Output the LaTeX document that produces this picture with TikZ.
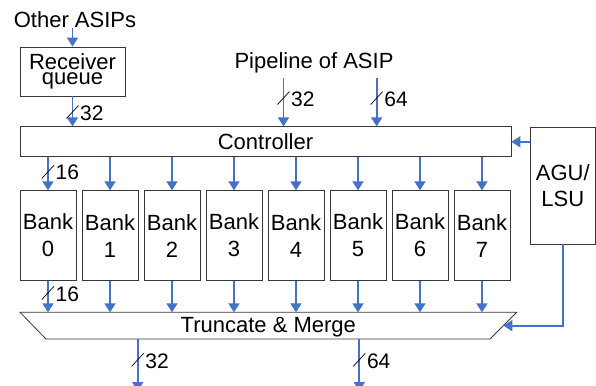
\documentclass[tikz,border=0pt]{standalone}
\usepackage{fontspec}
\setmainfont{Liberation Sans}
\usepackage{tikz}
\usetikzlibrary{arrows.meta,%
                calc,%
                positioning}
\definecolor{busblue}{RGB}{68,114,196}
\newcommand{\BusWidth}[2]{%
  \draw[TickStyle] ($(#1)+(-6,6.5)$) -- ($(#1)+(6,-6.5)$);
  \node[WidthStyle] at ($(#1)+(7.5,1)$) {#2};}

\begin{document}
\begin{tikzpicture}[x=1pt,y=-1pt]
		\tikzstyle{every node}=[font=\fontsize{22}{26}\selectfont]
		\tikzset{BoxStyle/.style = {draw=black!78,line width=0.8pt,align=center,inner sep=0pt}}
		\tikzset{BankStyle/.style = {BoxStyle,minimum width=56pt,minimum height=89.8pt,font=\fontsize{22}{27}\selectfont}}
		\tikzset{TickStyle/.style = {draw=black,line width=0.7pt}}
		\tikzset{WidthStyle/.style = {anchor=west,inner sep=0pt,font=\fontsize{21}{21}\selectfont}}
		\tikzstyle{EdgeStyle}=[draw=busblue,line width=1.7pt,-{Triangle[length=9pt,width=11pt]}]
		\useasboundingbox (0,0) rectangle (596,385);
		\node[anchor=base,inner sep=0pt] (others) at (75,27.3) {Other ASIPs};
		\node[BoxStyle,minimum width=105pt,minimum height=49pt,font=\fontsize{22}{15}\selectfont] (queue) at (72.5,71.5) {Receiver\\queue};
		\node[anchor=base,inner sep=0pt] (pipe) at (314,68.3) {Pipeline of ASIP};
		\node[BoxStyle,minimum width=491pt,minimum height=30pt] (ctrl) at (265.5,141.8) {Controller};
		\node[BoxStyle,minimum width=65.5pt,minimum height=117pt] (agu) at (562.75,185.5) {AGU/\\LSU};
		\node[BankStyle] (bank0) at (48,235.6) {Bank\\0};
		\node[BankStyle] (bank1) at (110,235.6) {Bank\\1};
		\node[BankStyle] (bank2) at (172,235.6) {Bank\\2};
		\node[BankStyle] (bank3) at (234,235.6) {Bank\\3};
		\node[BankStyle] (bank4) at (296,235.6) {Bank\\4};
		\node[BankStyle] (bank5) at (358,235.6) {Bank\\5};
		\node[BankStyle] (bank6) at (420,235.6) {Bank\\6};
		\node[BankStyle] (bank7) at (482,235.6) {Bank\\7};
		% truncate & merge
		\coordinate (tmTL) at (20,312.3);
		\coordinate (tmTR) at (516.7,312.3);
		\coordinate (tmBR) at (490,339);
		\coordinate (tmBL) at (46,339);
		\draw[BoxStyle] (tmTL) -- (tmTR) -- (tmBR) -- (tmBL) -- cycle;
		\node[anchor=base,inner sep=0pt] (merge) at (268.3,332.7) {Truncate \& Merge};
		\coordinate (in32) at (283.5,78.3);
		\coordinate (in64) at (376.7,78.3);
		\coordinate (out32) at (137.7,391);
		\coordinate (out64) at (359.3,391);
		\draw[EdgeStyle] (others.south -| queue.north) -- (queue.north);
		\draw[EdgeStyle] (queue.south) -- coordinate[pos=0.52] (wq) (queue.south |- ctrl.north);
		\draw[EdgeStyle] (in32) -- coordinate[pos=0.41] (wi32) (in32 |- ctrl.north);
		\draw[EdgeStyle] (in64) -- coordinate[pos=0.41] (wi64) (in64 |- ctrl.north);
		\draw[EdgeStyle] (agu.west |- ctrl.east) -- (ctrl.east);
		\draw[EdgeStyle] (bank0.north |- ctrl.south) -- coordinate[pos=0.44] (wb) (bank0.north);
		\draw[EdgeStyle] (bank1.north |- ctrl.south) -- (bank1.north);
		\draw[EdgeStyle] (bank2.north |- ctrl.south) -- (bank2.north);
		\draw[EdgeStyle] (bank3.north |- ctrl.south) -- (bank3.north);
		\draw[EdgeStyle] (bank4.north |- ctrl.south) -- (bank4.north);
		\draw[EdgeStyle] (bank5.north |- ctrl.south) -- (bank5.north);
		\draw[EdgeStyle] (bank6.north |- ctrl.south) -- (bank6.north);
		\draw[EdgeStyle] (bank7.north |- ctrl.south) -- (bank7.north);
		\draw[EdgeStyle] (bank0.south) -- coordinate[pos=0.38] (wm) (bank0.south |- tmTL);
		\draw[EdgeStyle] (bank1.south) -- (bank1.south |- tmTL);
		\draw[EdgeStyle] (bank2.south) -- (bank2.south |- tmTL);
		\draw[EdgeStyle] (bank3.south) -- (bank3.south |- tmTL);
		\draw[EdgeStyle] (bank4.south) -- (bank4.south |- tmTL);
		\draw[EdgeStyle] (bank5.south) -- (bank5.south |- tmTL);
		\draw[EdgeStyle] (bank6.south) -- (bank6.south |- tmTL);
		\draw[EdgeStyle] (bank7.south) -- (bank7.south |- tmTL);
		\draw[EdgeStyle] (agu.south) |- ($(tmTR)!0.5!(tmBR)$);
		\draw[EdgeStyle] (out32 |- tmBL) -- coordinate[pos=0.4] (wo32) (out32);
		\draw[EdgeStyle] (out64 |- tmBL) -- coordinate[pos=0.4] (wo64) (out64);
		% bus widths:
		\BusWidth{wq}{32}
		\BusWidth{wi32}{32}
		\BusWidth{wi64}{64}
		\BusWidth{wb}{16}
		\BusWidth{wm}{16}
		\BusWidth{wo32}{32}
		\BusWidth{wo64}{64}
\end{tikzpicture}
\end{document}
